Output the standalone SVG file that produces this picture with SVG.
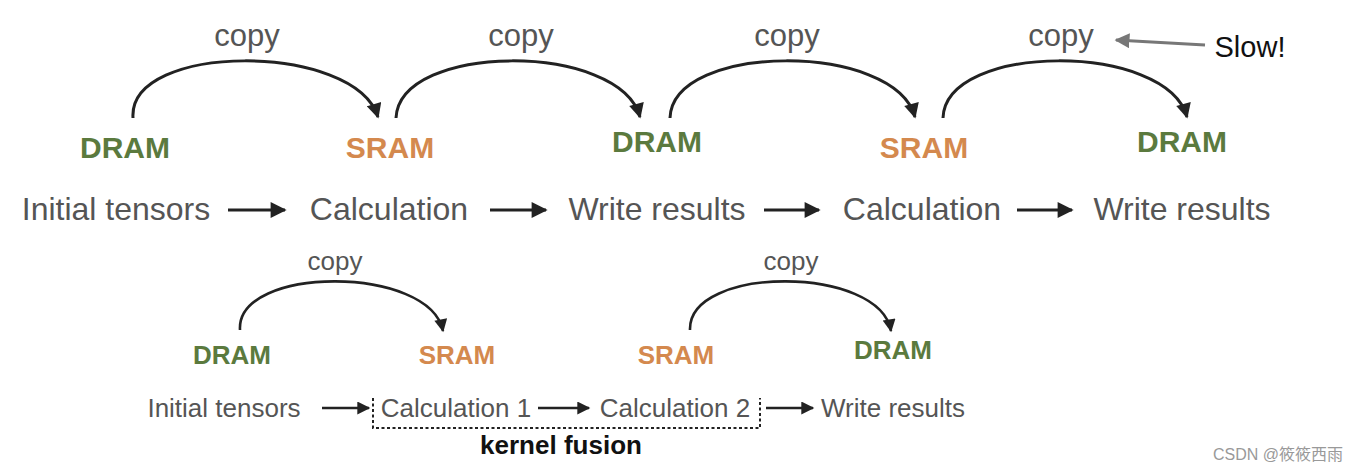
<svg xmlns="http://www.w3.org/2000/svg" width="1361" height="472" viewBox="0 0 1361 472">
<defs>
<marker id="ah" viewBox="0 0 10 10" refX="9" refY="5" markerWidth="5.5" markerHeight="5" orient="auto" markerUnits="strokeWidth"><path d="M0,0 L10,5 L0,10 z" fill="#222"/></marker>
<marker id="ahc" viewBox="0 0 10 10" refX="9" refY="5" markerWidth="6" markerHeight="5" orient="auto" markerUnits="strokeWidth"><path d="M0,0 L10,5 L0,10 z" fill="#222"/></marker>
<marker id="ahg" viewBox="0 0 10 10" refX="9" refY="5" markerWidth="5" markerHeight="5" orient="auto" markerUnits="strokeWidth"><path d="M0,0 L10,5 L0,10 z" fill="#777"/></marker>
</defs>
<style>
text{font-family:"Liberation Sans",Arial,sans-serif;text-anchor:middle}
.lbl{fill:#555;font-size:32px}
.lbls{fill:#555;font-size:26px}
.cp{fill:#555;font-size:31px}
.cps{fill:#555;font-size:26px}
.d{fill:#5b7a3e;font-weight:bold;font-size:30px}
.s{fill:#d4894e;font-weight:bold;font-size:30px}
.ds{fill:#5b7a3e;font-weight:bold;font-size:26px}
.ss{fill:#d4894e;font-weight:bold;font-size:26px}
.arc{fill:none;stroke:#222;stroke-width:3;marker-end:url(#ahc)}
.arcs{fill:none;stroke:#222;stroke-width:2.6;marker-end:url(#ahc)}
.ar{fill:none;stroke:#222;stroke-width:3.2;marker-end:url(#ah)}
.ars{fill:none;stroke:#222;stroke-width:2.6;marker-end:url(#ah)}
</style>
<rect width="1361" height="472" fill="#fff"/>
<g id="connectors">
<path class="arc" d="M133,118 C128,42 355,42 378,117"/>
<path class="arc" d="M396,118 C400,42 620,42 640,117"/>
<path class="arc" d="M670,118 C673,42 895,42 915,117"/>
<path class="arc" d="M943,118 C946,42 1167,42 1187,117"/>
<path d="M1205,45 L1116,40" fill="none" stroke="#777" stroke-width="3" marker-end="url(#ahg)"/>
<path class="ar" d="M228,210 L285,210"/>
<path class="ar" d="M490,210 L546,210"/>
<path class="ar" d="M764,210 L819,210"/>
<path class="ar" d="M1017,210 L1072,210"/>
<path class="arcs" d="M240,330 C236,265 430,265 443,331"/>
<path class="arcs" d="M690,330 C688,265 880,265 891,331"/>
<path class="ars" d="M322,408 L369,408"/>
<path class="ars" d="M538,408 L589,408"/>
<path class="ars" d="M766,408 L813,408"/>
<path d="M373,398 V428 H760 V398" fill="none" stroke="#222" stroke-width="2" stroke-dasharray="3,2.5"/>
</g>
<g id="copy-labels">
<text class="cp" x="247" y="46">copy</text>
<text class="cp" x="521" y="46">copy</text>
<text class="cp" x="787" y="46">copy</text>
<text class="cp" x="1061" y="46">copy</text>
<text class="cps" x="335" y="270">copy</text>
<text class="cps" x="791" y="270">copy</text>
</g>
<g id="slow"><text x="1250" y="57" style="fill:#111;font-size:29px">Slow!</text></g>
<g id="top-dram1"><text class="d" x="125" y="158">DRAM</text></g>
<g id="top-sram1"><text class="s" x="390" y="158">SRAM</text></g>
<g id="top-dram2"><text class="d" x="657" y="152">DRAM</text></g>
<g id="top-sram2"><text class="s" x="924" y="158">SRAM</text></g>
<g id="top-dram3"><text class="d" x="1182" y="152">DRAM</text></g>
<g id="top-initial"><text class="lbl" x="116" y="220">Initial tensors</text></g>
<g id="top-calc1"><text class="lbl" x="389" y="220">Calculation</text></g>
<g id="top-write1"><text class="lbl" x="657" y="220">Write results</text></g>
<g id="top-calc2"><text class="lbl" x="922" y="220">Calculation</text></g>
<g id="top-write2"><text class="lbl" x="1182" y="220">Write results</text></g>
<g id="bot-dram1"><text class="ds" x="232" y="364">DRAM</text></g>
<g id="bot-sram1"><text class="ss" x="457" y="364">SRAM</text></g>
<g id="bot-sram2"><text class="ss" x="676" y="364">SRAM</text></g>
<g id="bot-dram2"><text class="ds" x="893" y="359">DRAM</text></g>
<g id="bot-initial"><text class="lbls" x="224" y="417">Initial tensors</text></g>
<g id="bot-calc1"><text class="lbls" x="456" y="417">Calculation 1</text></g>
<g id="bot-calc2"><text class="lbls" x="675" y="417">Calculation 2</text></g>
<g id="bot-write"><text class="lbls" x="893" y="417">Write results</text></g>
<g id="kernel-fusion"><text x="561" y="454" style="fill:#111;font-weight:bold;font-size:26px">kernel fusion</text></g>
<g id="watermark"><text x="1278" y="460" style="fill:#999;font-size:16px;font-family:'Liberation Sans','Noto Sans CJK SC',sans-serif">CSDN @筱筱西雨</text></g>
</svg>
